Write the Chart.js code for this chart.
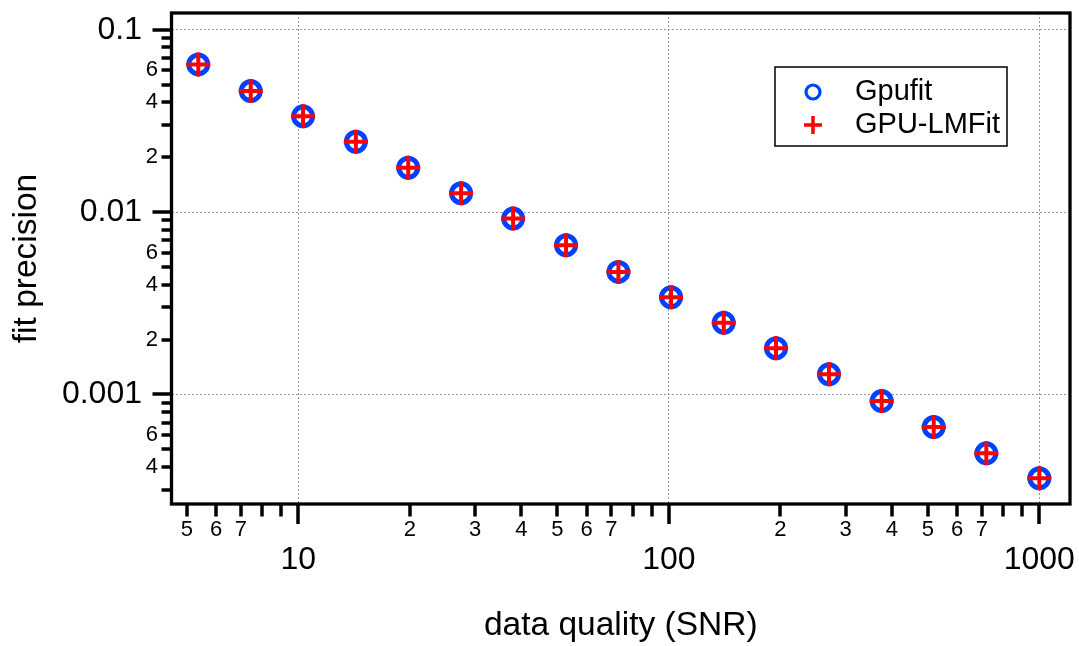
<!DOCTYPE html>
<html>
<head>
<meta charset="utf-8">
<script src="https://cdn.jsdelivr.net/npm/chart.js@4.4.1/dist/chart.umd.min.js"></script>
<style>
  html, body { margin: 0; padding: 0; background: #fff; }
  #wrap { width: 1079px; height: 646px; }
</style>
</head>
<body>
<div id="wrap"><canvas id="myChart"></canvas></div>
<script>
// ----------------------------
// data
// ----------------------------
const snr = [5.37, 7.44, 10.3, 14.3, 19.8, 27.5, 38.0, 52.8, 73.1, 101.4, 140.7, 194.7, 270.6, 375.4, 518.8, 719.4, 1000];
const gpufit = [0.0646, 0.0461, 0.0335, 0.0243, 0.0175, 0.0127, 0.00921, 0.00658, 0.00470, 0.00341, 0.00247, 0.00179, 0.00129, 0.000919, 0.000662, 0.000475, 0.000347];
const gpuLMFit = [0.0646, 0.0461, 0.0335, 0.0243, 0.0175, 0.0127, 0.00921, 0.00658, 0.00470, 0.00341, 0.00247, 0.00179, 0.00129, 0.000919, 0.000662, 0.000475, 0.000347];

const xTicks = [5, 6, 7, 8, 9, 10, 20, 30, 40, 50, 60, 70, 80, 90, 100, 200, 300, 400, 500, 600, 700, 800, 900, 1000];
const xTickLabels = ['5', '6', '7', '', '', '10', '2', '3', '4', '5', '6', '7', '', '', '100', '2', '3', '4', '5', '6', '7', '', '', '1000'];
const xMajor = [10, 100, 1000];

const yTicks = [0.0003, 0.0004, 0.0005, 0.0006, 0.0007, 0.0008, 0.0009, 0.001,
                0.002, 0.003, 0.004, 0.005, 0.006, 0.007, 0.008, 0.009, 0.01,
                0.02, 0.03, 0.04, 0.05, 0.06, 0.07, 0.08, 0.09, 0.1];
const yTickLabels = ['', '4', '', '6', '', '', '', '0.001',
                     '2', '', '4', '', '6', '', '', '', '0.01',
                     '2', '', '4', '', '6', '', '', '', '0.1'];
const yMajor = [0.001, 0.01, 0.1];

const FONT = '"Liberation Sans", Arial, sans-serif';
const BLUE = '#0040ff';
const RED = '#ff0000';
const GRID = '#999999';

// plot box is fixed, no label padding
const noPadding = (scale) => {
    scale.paddingLeft = 0;
    scale.paddingRight = 0;
    scale.paddingTop = 0;
    scale.paddingBottom = 0;
};

// ----------------------------
// ticks, frame and legend box
// ----------------------------
const frameTicks = {
    id: 'frameTicks',
    afterDatasetsDraw(chart) {
        const { ctx, chartArea: a, scales } = chart;
        const xs = scales.x, ys = scales.y;
        ctx.save();
        ctx.strokeStyle = '#000';
        ctx.lineCap = 'butt';
        ctx.lineWidth = 3.5;
        ctx.beginPath();
        xs.ticks.forEach(t => {
            const px = Math.round(xs.getPixelForValue(t.value));
            const len = t.major ? 20 : 12.5;
            ctx.moveTo(px, a.bottom);
            ctx.lineTo(px, a.bottom + len);
        });
        ys.ticks.forEach(t => {
            const py = Math.round(ys.getPixelForValue(t.value));
            const len = t.major ? 19 : 10;
            ctx.moveTo(a.left - len, py);
            ctx.lineTo(a.left, py);
        });
        ctx.stroke();

        ctx.lineWidth = 3.3;
        ctx.strokeRect(a.left, a.top, a.right - a.left, a.bottom - a.top);

        // legend
        const lx = a.right - 295, ly = a.top + 54, lw = 232, lh = 79;
        ctx.fillStyle = '#fff';
        ctx.fillRect(lx, ly, lw, lh);
        ctx.strokeStyle = '#000';
        ctx.lineWidth = 1.5;
        ctx.strokeRect(lx, ly, lw, lh);

        const mx = lx + 38;
        const row1 = ly + 25, row2 = ly + 58;
        ctx.strokeStyle = BLUE;
        ctx.lineWidth = 3.2;
        ctx.beginPath();
        ctx.arc(mx, row1, 7, 0, Math.PI * 2);
        ctx.stroke();

        ctx.strokeStyle = RED;
        ctx.lineWidth = 3.5;
        ctx.beginPath();
        ctx.moveTo(mx - 9, row2); ctx.lineTo(mx + 9, row2);
        ctx.moveTo(mx, row2 - 9); ctx.lineTo(mx, row2 + 9);
        ctx.stroke();

        ctx.fillStyle = '#000';
        ctx.font = '29px ' + FONT;
        ctx.textAlign = 'left';
        ctx.textBaseline = 'middle';
        ctx.fillText(chart.data.datasets[0].label, lx + 80, row1);
        ctx.fillText(chart.data.datasets[1].label, lx + 80, row2);
        ctx.restore();
    }
};

const ctx = document.getElementById('myChart').getContext('2d');

const chart = new Chart(ctx, {
    type: 'scatter',
    data: {
        datasets: [
            {
                label: 'Gpufit',
                data: snr.map((v, i) => ({ x: v, y: gpufit[i] })),
                pointStyle: 'circle',
                pointRadius: 9.5,
                pointBorderWidth: 5,
                pointBorderColor: BLUE,
                pointBackgroundColor: 'rgba(0,0,0,0)',
                showLine: false,
                order: 1
            },
            {
                label: 'GPU-LMFit',
                data: snr.map((v, i) => ({ x: v, y: gpuLMFit[i] })),
                pointStyle: 'cross',
                pointRadius: 12,
                pointBorderWidth: 4,
                pointBorderColor: RED,
                showLine: false,
                order: 0
            }
        ]
    },
    options: {
        responsive: true,
        maintainAspectRatio: false,
        animation: false,
        layout: { autoPadding: false, padding: { top: 13, right: 9, bottom: 0, left: 0 } },
        plugins: {
            legend: { display: false },
            tooltip: { enabled: false }
        },
        scales: {
            x: {
                type: 'logarithmic',
                min: 4.547,
                max: 1210,
                afterBuildTicks: (scale) => {
                    scale.ticks = xTicks.map(v => ({ value: v, major: xMajor.includes(v) }));
                },
                afterFit: (scale) => {
                    scale.height = 142;
                    noPadding(scale);
                },
                ticks: {
                    autoSkip: false,
                    maxRotation: 0,
                    minRotation: 0,
                    padding: 13,
                    color: '#000',
                    font: (c) => (c.tick && c.tick.major)
                        ? { family: FONT, size: 32, lineHeight: 2.69 }
                        : { family: FONT, size: 22, lineHeight: 1.2 },
                    callback: (value, index) => xTickLabels[index]
                },
                grid: {
                    drawTicks: false,
                    lineWidth: 1,
                    color: (c) => (c.tick && c.tick.major) ? GRID : 'rgba(0,0,0,0)'
                },
                border: { display: false, dash: [2, 2] },
                title: {
                    display: true,
                    text: 'data quality (SNR)',
                    color: '#000',
                    font: { family: FONT, size: 33.5 },
                    padding: { top: 0, bottom: 0 }
                }
            },
            y: {
                type: 'logarithmic',
                min: 0.0002506,
                max: 0.1236,
                afterBuildTicks: (scale) => {
                    scale.ticks = yTicks.map(v => ({ value: v, major: yMajor.includes(v) }));
                },
                afterFit: (scale) => {
                    scale.width = 171.5;
                    noPadding(scale);
                },
                ticks: {
                    autoSkip: false,
                    padding: 13.5,
                    color: '#000',
                    font: (c) => (c.tick && c.tick.major)
                        ? { family: FONT, size: 32 }
                        : { family: FONT, size: 22 },
                    callback: (value, index) => {
                        const lbl = yTickLabels[index];
                        return yMajor.includes(yTicks[index]) ? lbl + '\u2002' : lbl;
                    }
                },
                grid: {
                    drawTicks: false,
                    lineWidth: 1,
                    color: (c) => (c.tick && c.tick.major) ? GRID : 'rgba(0,0,0,0)'
                },
                border: { display: false, dash: [2, 2] },
                title: {
                    display: true,
                    text: 'fit precision',
                    color: '#000',
                    font: { family: FONT, size: 33.5 },
                    padding: { top: 7, bottom: 0 }
                }
            }
        }
    },
    plugins: [frameTicks]
});
</script>
</body>
</html>
